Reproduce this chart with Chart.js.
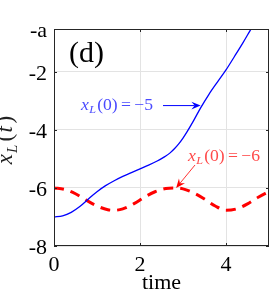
<!DOCTYPE html>
<html lang="en">
  <head>
    <meta charset="UTF-8" />
    <title>x_L(t) vs time</title>
    <script src="https://cdn.jsdelivr.net/npm/chart.js"></script>
    <style>
      body { margin: 0; background: #fff; }
      canvas { display: block; }
    </style>
  </head>
  <body>
    <canvas id="chart" width="273" height="296"></canvas>
    <script>
      // x_L(0) = -5 (solid blue)
      const timeBlue = [0, 0.2, 0.4, 0.6, 0.8, 1.0, 1.2, 1.4, 1.6, 1.8, 2.0, 2.2, 2.4, 2.5, 2.6, 2.7, 2.8, 2.9, 3.0, 3.1, 3.25, 3.41, 3.6, 3.8, 4.0, 4.2, 4.4, 4.55, 4.7];
      const xBlue = [-7.0, -6.96, -6.84, -6.64, -6.38, -6.13, -5.92, -5.75, -5.6, -5.47, -5.34, -5.21, -5.07, -4.99, -4.9, -4.79, -4.65, -4.48, -4.28, -4.05, -3.67, -3.24, -2.78, -2.35, -1.93, -1.46, -0.98, -0.6, -0.22];

      // x_L(0) = -6 (dashed red)
      const timeRed = [0, 0.25, 0.5, 0.75, 1.0, 1.25, 1.4, 1.6, 1.85, 2.1, 2.35, 2.6, 2.8, 3.0, 3.25, 3.5, 3.75, 4.0, 4.25, 4.5, 4.75, 5.0];
      const xRed = [-6.0, -6.05, -6.2, -6.42, -6.62, -6.75, -6.77, -6.72, -6.55, -6.32, -6.13, -6.02, -6.0, -6.03, -6.17, -6.38, -6.62, -6.77, -6.72, -6.55, -6.32, -6.12];

      const xTicks = [0, 2, 4];
      const yTicks = [-8, -6, -4, -2, -0.52];
      const yTickLabels = ["-8", "-6", "-4", "-2", "-a"];

      const serif = '"Liberation Serif", "Times New Roman", serif';
      const BLUE = "#0000ff";
      const RED = "#ff0000";
      Chart.defaults.font.family = serif;

      const toPoints = (ts, vs) => ts.map((t, i) => ({ x: t, y: vs[i] }));

      // parts: [text, size, italic, dy, gapAfter]; stretched to width w if given
      function drawRich(ctx, parts, x, y, align, w) {
        const fontOf = (p) => (p[2] ? "italic " : "") + p[1] + "px " + serif;
        let natural = 0;
        parts.forEach((p) => {
          ctx.font = fontOf(p);
          natural += ctx.measureText(p[0]).width + (p[4] || 0);
        });
        const width = w || natural;
        const sx = width / natural;
        let left = align === "right" ? x - width : align === "center" ? x - width / 2 : x;
        ctx.save();
        ctx.translate(left, y);
        ctx.scale(sx, 1);
        ctx.textBaseline = "alphabetic";
        ctx.textAlign = "left";
        let cx = 0;
        parts.forEach((p) => {
          ctx.font = fontOf(p);
          ctx.fillText(p[0], cx, p[3]);
          cx += ctx.measureText(p[0]).width + (p[4] || 0);
        });
        ctx.restore();
      }

      function arrow(ctx, x0, y0, x1, y1, color, head, lw) {
        const a = Math.atan2(y1 - y0, x1 - x0);
        ctx.save();
        ctx.strokeStyle = color;
        ctx.fillStyle = color;
        ctx.lineWidth = lw;
        ctx.beginPath();
        ctx.moveTo(x0, y0);
        ctx.lineTo(x1 - Math.cos(a) * head * 0.6, y1 - Math.sin(a) * head * 0.6);
        ctx.stroke();
        ctx.beginPath();
        ctx.moveTo(x1, y1);
        ctx.lineTo(x1 - head * Math.cos(a - 0.4), y1 - head * Math.sin(a - 0.4));
        ctx.lineTo(x1 - head * 0.6 * Math.cos(a), y1 - head * 0.6 * Math.sin(a));
        ctx.lineTo(x1 - head * Math.cos(a + 0.4), y1 - head * Math.sin(a + 0.4));
        ctx.closePath();
        ctx.fill();
        ctx.restore();
      }

      const decorations = {
        id: "decorations",
        afterDraw(chart) {
          const ctx = chart.ctx;
          const area = chart.chartArea;
          const xs = chart.scales.x;
          const ys = chart.scales.y;

          // box and inward ticks
          ctx.save();
          ctx.strokeStyle = "#262626";
          ctx.lineWidth = 1;
          ctx.strokeRect(area.left + 0.5, area.top + 0.5, area.right - area.left - 1, area.bottom - area.top - 1);
          ctx.beginPath();
          xTicks.forEach((t) => {
            const px = Math.round(xs.getPixelForValue(t)) + 0.5;
            ctx.moveTo(px, area.bottom);
            ctx.lineTo(px, area.bottom - 3);
            ctx.moveTo(px, area.top);
            ctx.lineTo(px, area.top + 3);
          });
          yTicks.forEach((v) => {
            const py = Math.round(ys.getPixelForValue(v)) + 0.5;
            ctx.moveTo(area.left, py);
            ctx.lineTo(area.left + 3, py);
            ctx.moveTo(area.right, py);
            ctx.lineTo(area.right - 3, py);
          });
          ctx.stroke();
          ctx.restore();

          // panel label
          ctx.save();
          ctx.fillStyle = "#000";
          drawRich(ctx, [["(d)", 30, false, 0]], 69, 62, "left");

          // y axis title, rotated
          ctx.fillStyle = "#222";
          ctx.translate(12, 140);
          ctx.rotate(-Math.PI / 2);
          drawRich(ctx, [["x", 23, true, 0, 1], ["L", 15, true, 5, 3], ["(", 23, false, 0, 1.5], ["t", 23, true, 0, 2.5], [")", 23, false, 0]], 0, 0, "center");
          ctx.restore();

          // annotation for x_L(0) = -5
          ctx.save();
          ctx.fillStyle = "#4a4aff";
          const tipB = [xs.getPixelForValue(3.41), ys.getPixelForValue(-3.16)];
          drawRich(ctx, [["x", 16, true, 0, 0.5], ["L", 11, true, 3, 1], ["(0)", 16, false, 0, 3], ["=", 16, false, 0, 3], ["\u22125", 16, false, 0]], 81, 110, "left", 72);
          arrow(ctx, 163, tipB[1], tipB[0], tipB[1], BLUE, 10, 1);
          ctx.restore();

          // annotation for x_L(0) = -6
          ctx.save();
          ctx.fillStyle = "#ff4a4a";
          const tipR = [xs.getPixelForValue(2.84), ys.getPixelForValue(-6.0)];
          drawRich(ctx, [["x", 16, true, 0, 0.5], ["L", 11, true, 3, 1], ["(0)", 16, false, 0, 3], ["=", 16, false, 0, 3], ["\u22126", 16, false, 0]], 188, 161, "left", 72);
          arrow(ctx, 195, 165, tipR[0], tipR[1], RED, 10, 0.8);
          ctx.restore();
        },
      };

      new Chart(document.getElementById("chart").getContext("2d"), {
        type: "line",
        data: {
          datasets: [
            {
              data: toPoints(timeBlue, xBlue),
              borderColor: BLUE,
              borderWidth: 1.3,
              pointRadius: 0,
              cubicInterpolationMode: "monotone",
            },
            {
              data: toPoints(timeRed, xRed),
              borderColor: RED,
              borderWidth: 3,
              borderDash: [10, 7],
              pointRadius: 0,
              cubicInterpolationMode: "monotone",
            },
          ],
        },
        options: {
          responsive: false,
          animation: false,
          events: [],
          layout: { padding: { left: 0, top: 29, right: 4, bottom: 0 } },
          plugins: { legend: { display: false }, tooltip: { enabled: false } },
          scales: {
            x: {
              type: "linear",
              min: 0,
              max: 5,
              afterBuildTicks: (s) => { s.ticks = xTicks.map((v) => ({ value: v })); },
              afterFit: (s) => { s.height = 50; },
              grid: { color: "#e3e3e3", drawTicks: false },
              border: { display: false },
              ticks: { color: "#000", padding: 6, maxRotation: 0, font: { family: serif, size: 22 } },
              title: { display: true, text: "time", color: "#000", padding: 0, font: { family: serif, size: 22 } },
            },
            y: {
              type: "linear",
              min: -8,
              max: -0.52,
              afterBuildTicks: (s) => { s.ticks = yTicks.map((v) => ({ value: v })); },
              afterFit: (s) => { s.width = 54; },
              grid: { color: "#e3e3e3", drawTicks: false },
              border: { display: false },
              ticks: {
                color: "#000",
                padding: 7,
                labelOffset: 2,
                font: { family: serif, size: 22 },
                callback: (v, i) => yTickLabels[i],
              },
            },
          },
        },
        plugins: [decorations],
      });
    </script>
  </body>
</html>
